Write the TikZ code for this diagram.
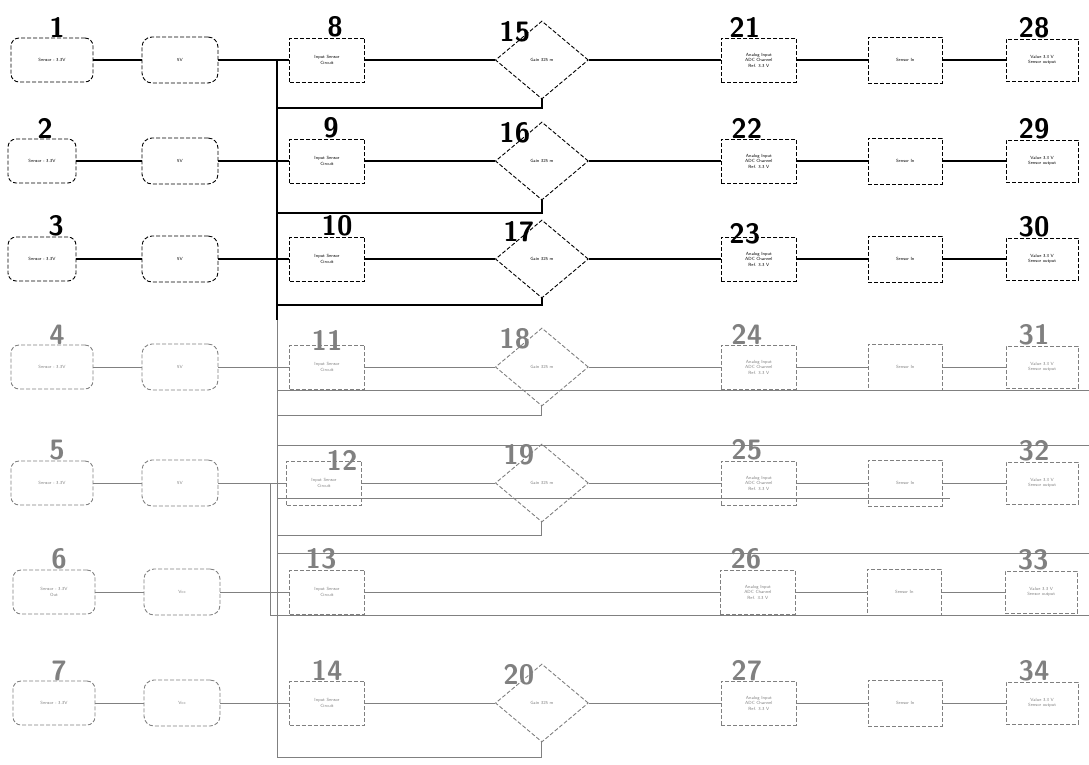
\documentclass[tikz,border=0pt]{standalone}
\usetikzlibrary{positioning,shapes.geometric}
\begin{document}
\begin{tikzpicture}[
  x=1pt, y=-1pt,
  font=\sffamily\fontsize{4.5}{5.5}\selectfont,
  label distance=0pt,
  box/.style={
    draw=black,
    line width=0.9pt,
    dash pattern=on 4pt off 2pt,
    align=center,
    inner sep=2pt,
    minimum height=44pt
  },
  srcbox/.style={box, rounded corners=8pt, minimum width=82pt},
  pwrbox/.style={box, rounded corners=10pt, minimum width=76pt, minimum height=46pt},
  inbox/.style={box, minimum width=75pt},
  gain/.style={box, diamond, minimum width=93pt, minimum height=78pt, inner sep=0pt},
  adcbox/.style={box, minimum width=75pt},
  relbox/.style={box, minimum width=74pt, minimum height=46pt},
  outbox/.style={box, minimum width=72pt, minimum height=42pt},
  faded/.style={draw=black!50, text=black!50},
  num/.style={font=\sffamily\bfseries\fontsize{28}{28}\selectfont, inner sep=0pt},
  fnum/.style={num, text=black!50},
  wire/.style={line width=1.2pt, draw=black},
  fwire/.style={wire, line width=1pt, draw=black!50}
]
\useasboundingbox (0,0) rectangle (1089,764);

% bus and return points
\coordinate (bustop) at (277,60);
\coordinate (busmid) at (277,320);
\coordinate (busbot) at (277,757);
\coordinate (bus2top) at (270,483);
\coordinate (bus2bot) at (270,615);
\coordinate (fb1) at (277,108);
\coordinate (fb2) at (277,213);
\coordinate (fb3) at (277,305);
\coordinate (fb4) at (277,415);
\coordinate (fb5) at (277,535);
\coordinate (la1) at (277,390);
\coordinate (lb1) at (1089,390);
\coordinate (la2) at (277,445);
\coordinate (lb2) at (1089,445);
\coordinate (la3) at (277,498);
\coordinate (lb3) at (950,498);
\coordinate (la4) at (277,553);
\coordinate (lb4) at (1089,553);
\coordinate (lb5) at (1089,615);

% row 1
\node[srcbox, label={[num, xshift=5pt]above:1}] (s1) at (52,60) {Sensor - 3.3V};
\node[pwrbox] (p1) at (180,60) {5V};
\node[inbox, label={[num, xshift=8pt]above:8}] (b8) at (327,60) {Input Sensor\\Circuit};
\node[gain, right=130pt of b8, label={[num, xshift=10pt, yshift=-4pt]above left:15}] (g15) {Gain 325 m};
\node[adcbox, right=132pt of g15, label={[num, xshift=-14pt]above:21}] (c21) {Analog Input\\ADC Channel\\Ref. 3.3 V};
\node[relbox, right=71pt of c21] (d1) {Sensor In};
\node[outbox, right=63pt of d1, label={[num, xshift=-8pt]above:28}] (o28) {Value 3.3 V\\Sensor output};

% row 2
\node[srcbox, minimum width=68pt, label={[num, xshift=3pt]above:2}] (s2) at (42,161) {Sensor - 3.3V};
\node[pwrbox] (p2) at (180,161) {5V};
\node[inbox, label={[num, xshift=4pt]above:9}] (b9) at (327,161) {Input Sensor\\Circuit};
\node[gain, right=130pt of b9, label={[num, xshift=10pt, yshift=-4pt]above left:16}] (g16) {Gain 325 m};
\node[adcbox, right=132pt of g16, label={[num, xshift=-12pt]above:22}] (c22) {Analog Input\\ADC Channel\\Ref. 3.3 V};
\node[relbox, right=71pt of c22] (d2) {Sensor In};
\node[outbox, right=63pt of d2, label={[num, xshift=-8pt]above:29}] (o29) {Value 3.3 V\\Sensor output};

% row 3
\node[srcbox, minimum width=68pt, label={[num, xshift=14pt]above:3}] (s3) at (42,259) {Sensor - 3.3V};
\node[pwrbox] (p3) at (180,259) {5V};
\node[inbox, label={[num, xshift=10pt]above:10}] (b10) at (327,259) {Input Sensor\\Circuit};
\node[gain, right=130pt of b10, label={[num, xshift=14pt, yshift=-4pt]above left:17}] (g17) {Gain 325 m};
\node[adcbox, right=132pt of g17, label={[num, xshift=-14pt, yshift=-8pt]above:23}] (c23) {Analog Input\\ADC Channel\\Ref. 3.3 V};
\node[relbox, right=71pt of c23] (d3) {Sensor In};
\node[outbox, right=63pt of d3, label={[num, xshift=-8pt]above:30}] (o30) {Value 3.3 V\\Sensor output};

% row 4
\node[srcbox, faded, label={[fnum, xshift=5pt]above:4}] (s4) at (52,367) {Sensor - 3.3V};
\node[pwrbox, faded] (p4) at (180,367) {5V};
\node[inbox, faded, label={[fnum, yshift=-6pt]above:11}] (b11) at (327,367) {Input Sensor\\Circuit};
\node[gain, faded, right=130pt of b11, label={[fnum, xshift=10pt, yshift=-4pt]above left:18}] (g18) {Gain 325 m};
\node[adcbox, faded, right=132pt of g18, label={[fnum, xshift=-12pt]above:24}] (c24) {Analog Input\\ADC Channel\\Ref. 3.3 V};
\node[relbox, faded, right=71pt of c24] (d4) {Sensor In};
\node[outbox, faded, right=63pt of d4, label={[fnum, xshift=-8pt]above:31}] (o31) {Value 3.3 V\\Sensor output};

% row 5
\node[srcbox, faded, label={[fnum, xshift=5pt]above:5}] (s5) at (52,483) {Sensor - 3.3V};
\node[pwrbox, faded] (p5) at (180,483) {5V};
\node[inbox, faded, label={[fnum, xshift=18pt, yshift=-10pt]above:12}] (b12) at (324,483) {Input Sensor\\Circuit};
\node[gain, faded, right=133pt of b12, label={[fnum, xshift=14pt, yshift=-4pt]above left:19}] (g19) {Gain 325 m};
\node[adcbox, faded, right=132pt of g19, label={[fnum, xshift=-12pt]above:25}] (c25) {Analog Input\\ADC Channel\\Ref. 3.3 V};
\node[relbox, faded, right=71pt of c25] (d5) {Sensor In};
\node[outbox, faded, right=63pt of d5, label={[fnum, xshift=-8pt]above:32}] (o32) {Value 3.3 V\\Sensor output};

% row 6 (no gain stage)
\node[srcbox, faded, label={[fnum, xshift=5pt]above:6}] (s6) at (54,592) {Sensor - 3.3V\\Out};
\node[pwrbox, faded] (p6) at (182,592) {Vcc};
\node[inbox, faded, label={[fnum, xshift=-6pt]above:13}] (b13) at (327,592) {Input Sensor\\Circuit};
\node[adcbox, faded, right=355pt of b13, label={[fnum, xshift=-12pt]above:26}] (c26) {Analog Input\\ADC Channel\\Ref. 3.3 V};
\node[relbox, faded, right=71pt of c26] (d6) {Sensor In};
\node[outbox, faded, right=63pt of d6, label={[fnum, xshift=-8pt]above:33}] (o33) {Value 3.3 V\\Sensor output};

% row 7
\node[srcbox, faded, label={[fnum, xshift=5pt]above:7}] (s7) at (54,703) {Sensor - 3.3V};
\node[pwrbox, faded] (p7) at (182,703) {Vcc};
\node[inbox, faded, label={[fnum]above:14}] (b14) at (327,703) {Input Sensor\\Circuit};
\node[gain, faded, right=130pt of b14, label={[fnum, xshift=14pt, yshift=-4pt]above left:20}] (g20) {Gain 325 m};
\node[adcbox, faded, right=132pt of g20, label={[fnum, xshift=-12pt]above:27}] (c27) {Analog Input\\ADC Channel\\Ref. 3.3 V};
\node[relbox, faded, right=71pt of c27] (d7) {Sensor In};
\node[outbox, faded, right=63pt of d7, label={[fnum, xshift=-8pt]above:34}] (o34) {Value 3.3 V\\Sensor output};

% bus lines
\draw[wire] (bustop) -- (busmid);
\draw[fwire] (busmid) -- (busbot);
\draw[fwire] (bus2top) -- (bus2bot);
\draw[fwire] (la1) -- (lb1);
\draw[fwire] (la2) -- (lb2);
\draw[fwire] (la3) -- (lb3);
\draw[fwire] (la4) -- (lb4);
\draw[fwire] (bus2bot) -- (lb5);

% signal chains
\draw[wire] (s1) -- (p1);
\draw[wire] (p1) -- (b8);
\draw[wire] (b8) -- (g15);
\draw[wire] (g15) -- (c21);
\draw[wire] (c21) -- (d1);
\draw[wire] (d1) -- (o28);
\draw[wire] (g15.south) |- (fb1);

\draw[wire] (s2) -- (p2);
\draw[wire] (p2) -- (b9);
\draw[wire] (b9) -- (g16);
\draw[wire] (g16) -- (c22);
\draw[wire] (c22) -- (d2);
\draw[wire] (d2) -- (o29);
\draw[wire] (g16.south) |- (fb2);

\draw[wire] (s3) -- (p3);
\draw[wire] (p3) -- (b10);
\draw[wire] (b10) -- (g17);
\draw[wire] (g17) -- (c23);
\draw[wire] (c23) -- (d3);
\draw[wire] (d3) -- (o30);
\draw[wire] (g17.south) |- (fb3);

\draw[fwire] (s4) -- (p4);
\draw[fwire] (p4) -- (b11);
\draw[fwire] (b11) -- (g18);
\draw[fwire] (g18) -- (c24);
\draw[fwire] (c24) -- (d4);
\draw[fwire] (d4) -- (o31);
\draw[fwire] (g18.south) |- (fb4);

\draw[fwire] (s5) -- (p5);
\draw[fwire] (p5) -- (b12);
\draw[fwire] (b12) -- (g19);
\draw[fwire] (g19) -- (c25);
\draw[fwire] (c25) -- (d5);
\draw[fwire] (d5) -- (o32);
\draw[fwire] (g19.south) |- (fb5);

\draw[fwire] (s6) -- (p6);
\draw[fwire] (p6) -- (b13);
\draw[fwire] (b13) -- (c26);
\draw[fwire] (c26) -- (d6);
\draw[fwire] (d6) -- (o33);

\draw[fwire] (s7) -- (p7);
\draw[fwire] (p7) -- (b14);
\draw[fwire] (b14) -- (g20);
\draw[fwire] (g20) -- (c27);
\draw[fwire] (c27) -- (d7);
\draw[fwire] (d7) -- (o34);
\draw[fwire] (g20.south) |- (busbot);

\end{tikzpicture}
\end{document}
